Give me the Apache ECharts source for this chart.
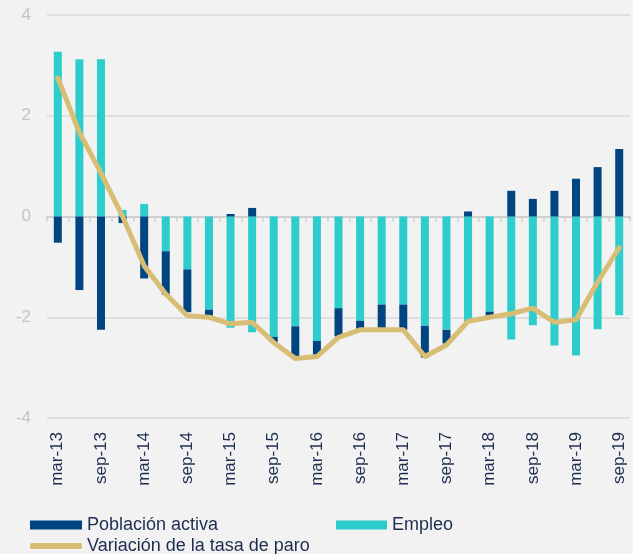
<!DOCTYPE html>
<html>
<head>
<meta charset="utf-8">
<script src="https://cdn.jsdelivr.net/npm/echarts@6/dist/echarts.min.js"></script>
<style>
  html, body { margin: 0; padding: 0; background: #f2f2f2; }
  #chart { width: 633px; height: 554px; }
</style>
</head>
<body>
<div id="chart"></div>
<script>
const quarters = [
  'mar-13', 'jun-13', 'sep-13', 'dic-13',
  'mar-14', 'jun-14', 'sep-14', 'dic-14',
  'mar-15', 'jun-15', 'sep-15', 'dic-15',
  'mar-16', 'jun-16', 'sep-16', 'dic-16',
  'mar-17', 'jun-17', 'sep-17', 'dic-17',
  'mar-18', 'jun-18', 'sep-18', 'dic-18',
  'mar-19', 'jun-19', 'sep-19'
]
const empleo = [
  3.27, 3.12, 3.12, 0.13, 0.25, -0.69, -1.05, -1.85, -2.21, -2.3, -2.39, -2.18, -2.47, -1.82,
  -2.07, -1.75, -1.75, -2.17, -2.25, -2.1, -1.89, -2.44, -2.16, -2.56, -2.76, -2.24, -1.96
]
const poblacionActiva = [
  -0.52, -1.46, -2.25, -0.13, -1.23, -0.86, -0.85, -0.12, 0.05, 0.17, -0.11, -0.59, -0.28, -0.56,
  -0.16, -0.47, -0.5, -0.63, -0.27, 0.1, -0.08, 0.51, 0.35, 0.51, 0.75, 0.98, 1.34
]
const tasaParo = [
  2.75, 1.67, 0.86, 0.0, -0.98, -1.54, -1.97, -2.0, -2.13, -2.1, -2.5, -2.82, -2.78, -2.4,
  -2.25, -2.25, -2.25, -2.78, -2.55, -2.08, -2.0, -1.93, -1.82, -2.1, -2.05, -1.3, -0.62
]

const font = "'Liberation Sans', Arial, sans-serif"
const textDark = '#1d2d4f'

const chart = echarts.init(document.getElementById('chart'), null, { renderer: 'canvas' })

chart.setOption({
  backgroundColor: '#f2f2f2',
  animation: false,
  textStyle: { fontFamily: font },
  grid: { left: 47, right: 3, top: 15, bottom: 136, containLabel: false },
  legend: [
    {
      left: 25, top: 511, itemWidth: 52, itemHeight: 9, itemGap: 0,
      icon: 'rect',
      data: ['Población activa'],
      textStyle: { fontSize: 18, color: textDark, fontFamily: font }
    },
    {
      left: 331, top: 511, itemWidth: 51, itemHeight: 9, itemGap: 0,
      icon: 'rect',
      data: ['Empleo'],
      textStyle: { fontSize: 18, color: textDark, fontFamily: font }
    },
    {
      left: 25, top: 532, itemWidth: 52, itemHeight: 6, itemGap: 0,
      icon: 'roundRect',
      data: ['Variación de la tasa de paro'],
      textStyle: { fontSize: 18, color: textDark, fontFamily: font }
    }
  ],
  xAxis: [
    {
      type: 'category',
      data: quarters,
      boundaryGap: true,
      axisLine: { onZero: true, lineStyle: { color: '#d0d0d0', width: 2 } },
      axisTick: { show: true, interval: 0, length: 5, lineStyle: { color: '#d0d0d0', width: 1.5 } },
      axisLabel: { show: false },
      splitLine: { show: false }
    },
    {
      type: 'category',
      data: quarters,
      position: 'bottom',
      boundaryGap: true,
      axisLine: { show: false, onZero: false },
      axisTick: { show: false },
      axisLabel: {
        interval: 1, rotate: 90, margin: 14,
        fontSize: 17, color: textDark, fontFamily: font
      }
    }
  ],
  yAxis: {
    type: 'value',
    min: -4, max: 4, interval: 2,
    axisLine: { show: false },
    axisTick: { show: false },
    axisLabel: { fontSize: 17, color: '#c4c4c4', margin: 16, fontFamily: font },
    splitLine: { lineStyle: { color: '#d9d9d9', width: 1.5 } }
  },
  series: [
    {
      name: 'Empleo',
      type: 'bar',
      stack: 'total',
      barWidth: 8,
      data: empleo,
      itemStyle: { color: '#2dcccd' }
    },
    {
      name: 'Población activa',
      type: 'bar',
      stack: 'total',
      barWidth: 8,
      data: poblacionActiva,
      itemStyle: { color: '#004481' }
    },
    {
      name: 'Variación de la tasa de paro',
      type: 'line',
      data: tasaParo,
      symbol: 'none',
      z: 5,
      lineStyle: { color: '#d8be75', width: 5, cap: 'round', join: 'round' },
      itemStyle: { color: '#d8be75' }
    }
  ]
})

window.addEventListener('resize', () => {
  chart.resize()
})
</script>
</body>
</html>
